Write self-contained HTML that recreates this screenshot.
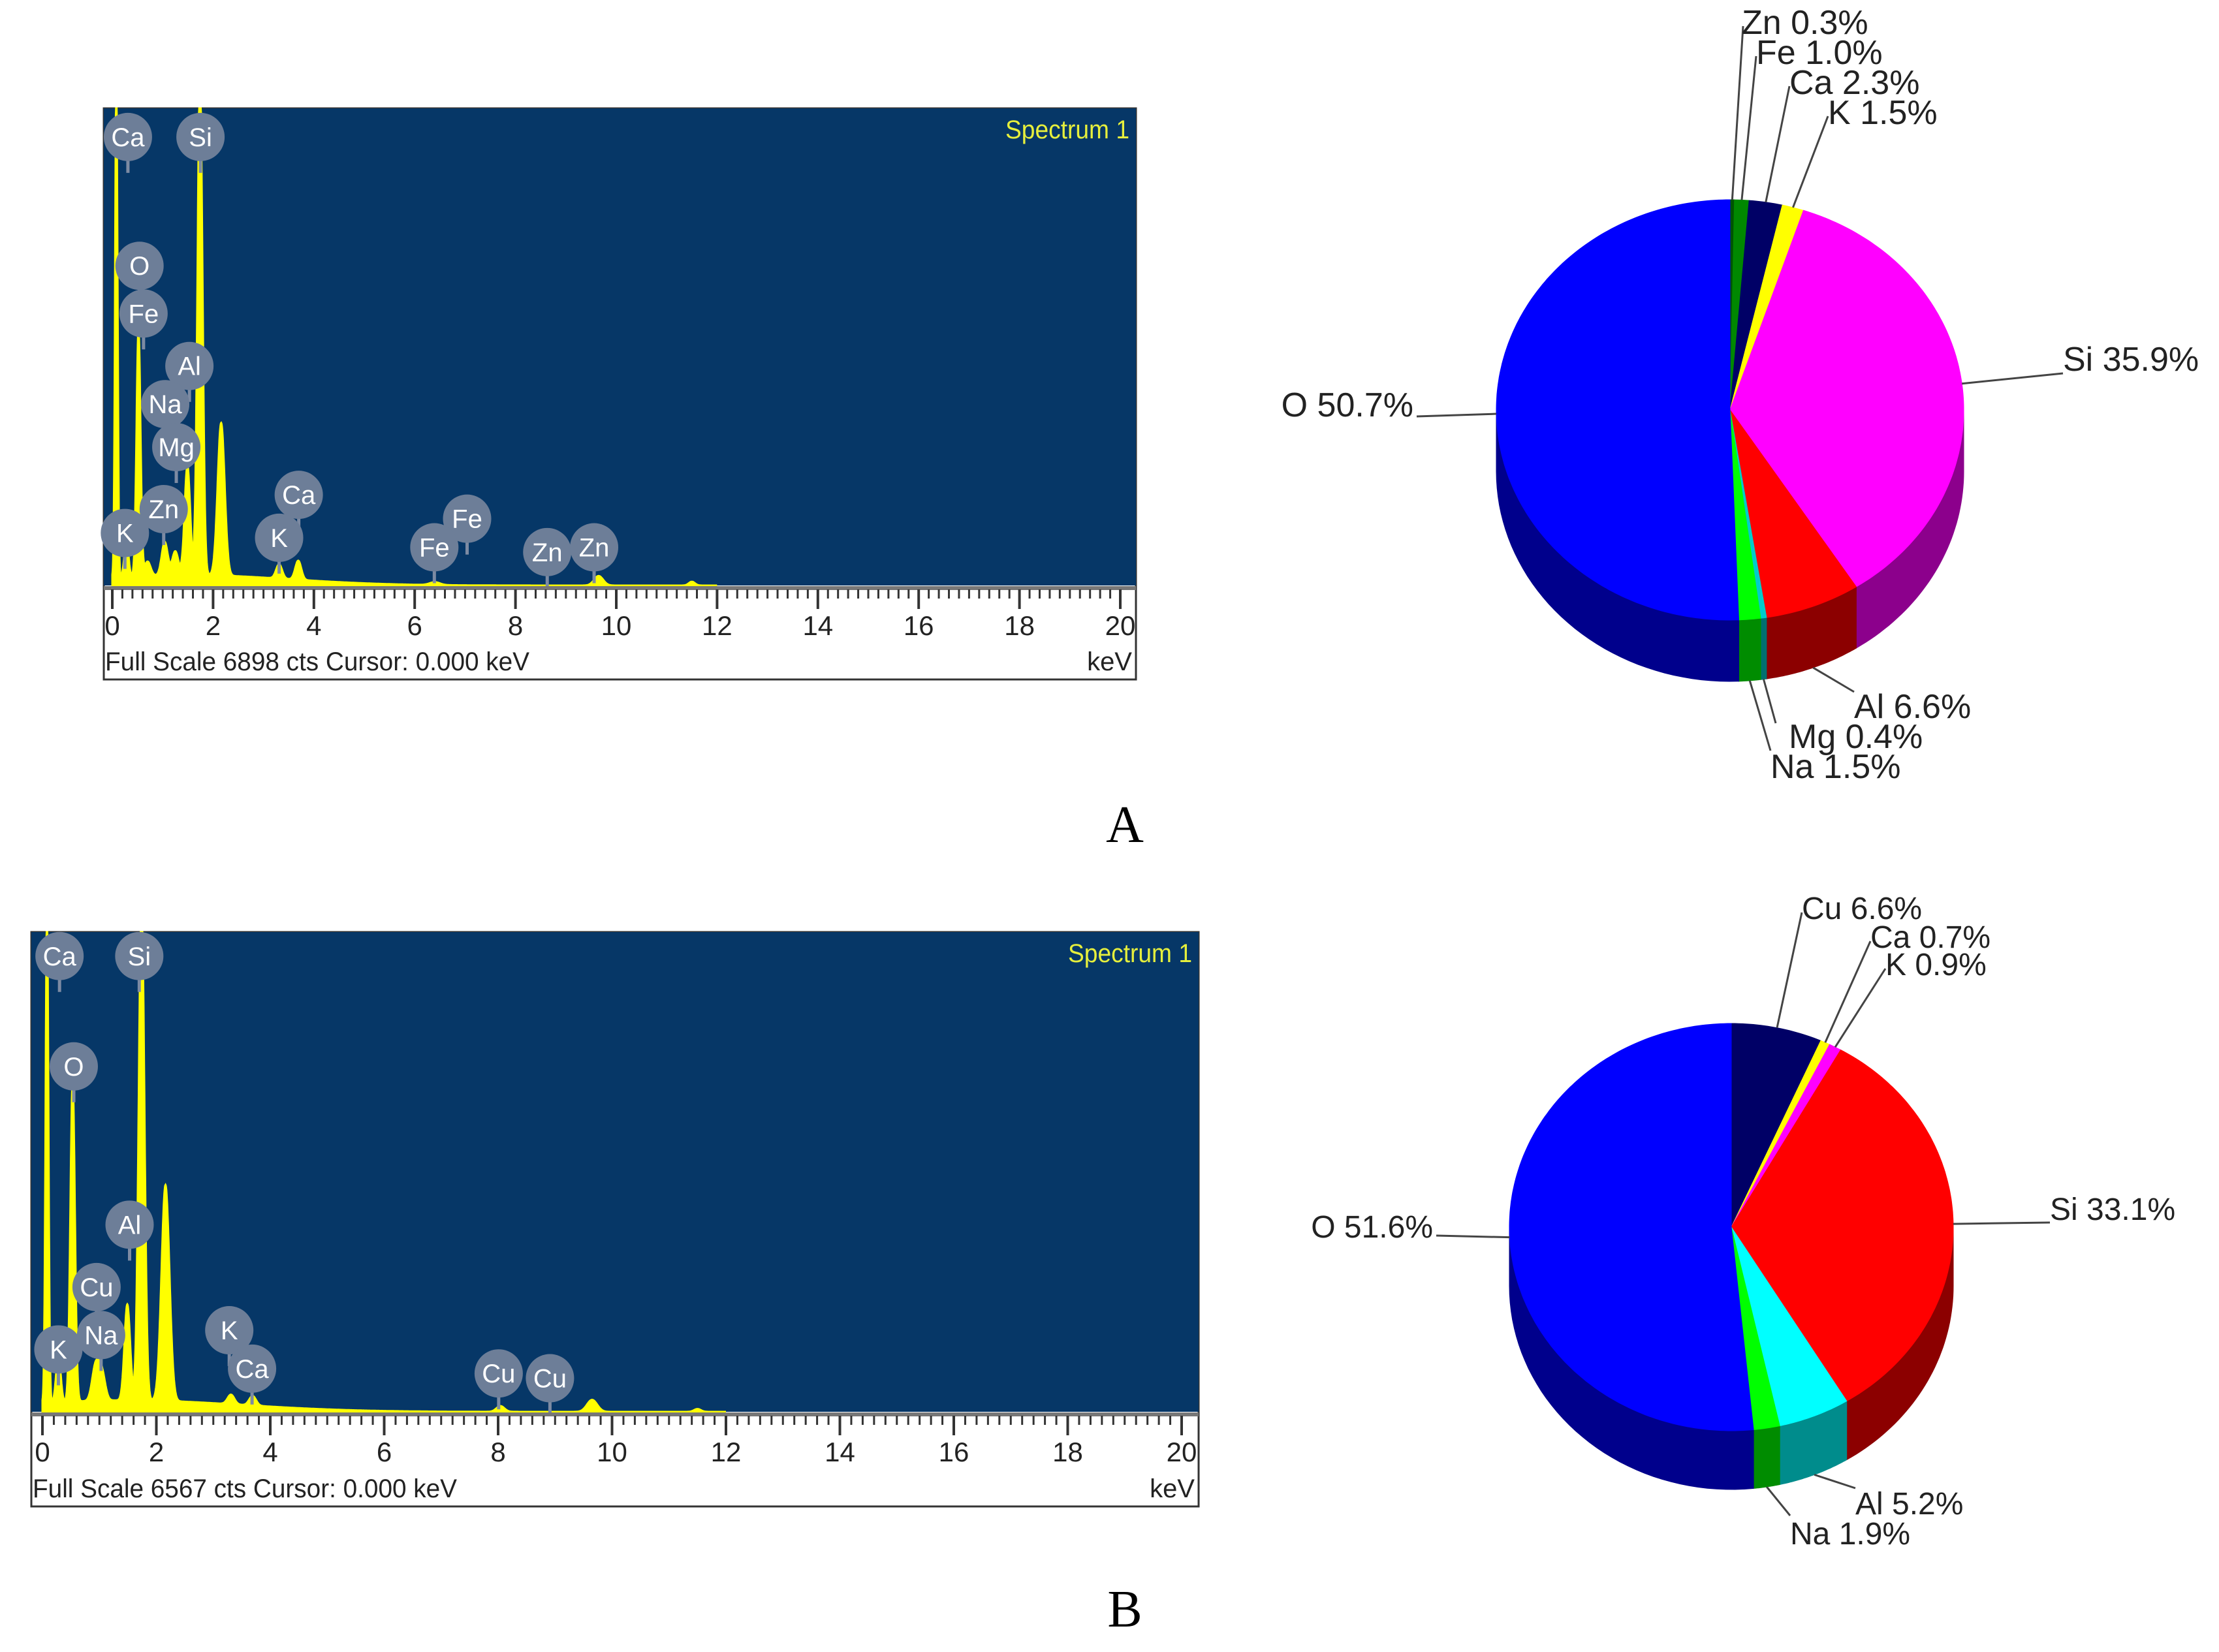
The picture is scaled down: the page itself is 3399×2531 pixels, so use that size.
<!DOCTYPE html>
<html><head><meta charset="utf-8"><style>
html,body{margin:0;padding:0;background:#fff}
svg{display:block}
</style></head><body>
<svg id="fig" xmlns="http://www.w3.org/2000/svg" width="3399" height="2531" viewBox="0 0 3399 2531">
<rect x="0" y="0" width="3399" height="2531" fill="#fff"/>
<text x="1723" y="1290" font-family="Liberation Serif, serif" font-size="80" text-anchor="middle">A</text>
<text x="1723" y="2492" font-family="Liberation Serif, serif" font-size="80" text-anchor="middle">B</text>
</svg>
<script>
// ---- Spectrum A data (energy keV, relative height, width) ----
const peakEnergyA=[0.08,0.28,0.52,0.70,1.04,1.25,1.49,1.74,2.16,3.31,3.69,6.40,9.65,11.5,1.5];
const peakHeightA=[1.05,0.08,0.52,0.03,0.07,0.05,0.23,1.05,0.32,0.03,0.04,0.006,0.02,0.008,0.022];
const peakWidthA=[0.025,0.04,0.04,0.06,0.06,0.06,0.055,0.05,0.07,0.06,0.06,0.1,0.09,0.06,2.0];
const badgeLabelsA=["Ca","Si","O","Fe","Al","Na","Mg","Zn","K","Ca","K","Fe","Fe","Zn","Zn"];
const badgeEnergyA=[0.31,1.75,0.54,0.62,1.53,1.05,1.27,1.02,0.25,3.70,3.31,7.04,6.39,8.63,9.56];
const badgeLevelA=[0.94,0.94,0.67,0.57,0.46,0.38,0.29,0.16,0.11,0.19,0.10,0.14,0.08,0.07,0.08];
// ---- Spectrum B data ----
const peakEnergyB=[0.08,0.28,0.53,0.93,1.04,1.49,1.74,2.16,3.31,3.69,8.04,9.65,11.5,1.5];
const peakHeightB=[1.05,0.10,0.67,0.07,0.06,0.20,1.05,0.45,0.02,0.02,0.012,0.025,0.006,0.024];
const peakWidthB=[0.025,0.04,0.04,0.06,0.06,0.05,0.05,0.07,0.06,0.06,0.07,0.09,0.06,2.0];
const badgeLabelsB=["Ca","Si","O","Al","Cu","Na","K","K","Ca","Cu","Cu"];
const badgeEnergyB=[0.30,1.70,0.55,1.53,0.95,1.03,0.28,3.28,3.68,8.01,8.91];
const badgeLevelB=[0.95,0.95,0.72,0.39,0.26,0.16,0.13,0.17,0.09,0.08,0.07];
const tickLabels=[0,2,4,6,8,10,12,14,16,18,20];
// ---- Pie data ----
const pieLabelsA=["Zn","Fe","Ca","K","Si","Al","Mg","Na","O"];
const pieValuesA=[0.3,1.0,2.3,1.5,35.9,6.6,0.4,1.5,50.7];
const pieLabelsB=["Cu","Ca","K","Si","Al","Na","O"];
const pieValuesB=[6.6,0.7,0.9,33.1,5.2,1.9,51.6];

const NS="http://www.w3.org/2000/svg";
const svg=document.getElementById('fig');
function mk(tag,attrs,parent){const e=document.createElementNS(NS,tag);for(const k in attrs)e.setAttribute(k,attrs[k]);(parent||svg).appendChild(e);return e;}

function spectrum(g,E,H,W,bl,be,bv,fullScale,name){
  const xs=v=>g.x0+(g.x20-g.x0)*v/20;
  const plotH=g.pb-g.top;
  const ys=v=>g.pb-Math.min(v,1.0)*plotH;
  const grp=mk('g',{});
  
  
  const frame=mk('rect',{x:g.left,y:g.top,width:g.right-g.left,height:g.bb-g.top,fill:'#fff',stroke:'#333','stroke-width':3},grp);
  
  
  const bg=mk('rect',{x:g.left,y:g.top,width:g.right-g.left,height:plotH,fill:'#063767'},grp);
  
  
  let d='M'+xs(0)+','+g.pb;
  for(let e=0;e<=12;e+=0.005){let v=0;for(let i=0;i<E.length;i++){v+=H[i]*Math.exp(-0.5*Math.pow((e-E[i])/W[i],2));}d+=' L'+xs(e).toFixed(1)+','+ys(v).toFixed(1);}
  d+=' L'+xs(12)+','+g.pb+' Z';
  const p=mk('path',{d:d,fill:'#ffff00',stroke:'#ffff00','stroke-width':3},grp);
  
  
  for(let i=0;i<bl.length;i++){
    const cx=xs(be[i]),cy=ys(bv[i]);
    const b=mk('g',{},grp);
    
    
    mk('line',{x1:cx,y1:cy+30,x2:cx,y2:cy+55,stroke:'#7d8ba3','stroke-width':5},b);
    mk('circle',{cx:cx,cy:cy,r:37,fill:'#6d7e98'},b);
    const t=mk('text',{x:cx,y:cy+14,'text-anchor':'middle','font-family':'Liberation Sans, sans-serif','font-size':40,fill:'#fff'},b);
    t.textContent=bl[i];
  }
  const st=mk('text',{x:g.right-10,y:g.top+46,'text-anchor':'end','font-family':'Liberation Sans, sans-serif','font-size':40,fill:'#e6ef3c',textLength:190,lengthAdjust:'spacingAndGlyphs'},grp);
  st.textContent='Spectrum 1';
  
  mk('line',{x1:g.left,y1:g.pb+4,x2:g.right,y2:g.pb+4,stroke:'#777','stroke-width':6},grp);
  for(let k=0;k<=100;k++){const x=xs(k*0.2);const major=k%10===0;mk('line',{x1:x,y1:g.pb+6,x2:x,y2:g.pb+(major?36:20),stroke:'#333','stroke-width':major?4:3},grp);}
  tickLabels.forEach(v=>{const t=mk('text',{x:xs(v),y:g.pb+76,'text-anchor':'middle','font-family':'Liberation Sans, sans-serif','font-size':42,fill:'#222'},grp);t.textContent=v;});
  const fs=mk('text',{x:g.left+2,y:g.bb-14,'font-family':'Liberation Sans, sans-serif','font-size':40,fill:'#222',textLength:650,lengthAdjust:'spacingAndGlyphs'},grp);
  fs.textContent='Full Scale '+fullScale+' cts  Cursor: 0.000 keV';
  
  
  const ku=mk('text',{x:g.right-6,y:g.bb-14,'text-anchor':'end','font-family':'Liberation Sans, sans-serif','font-size':40,fill:'#222'},grp);
  ku.textContent='keV';
  
  
}
spectrum({left:159,top:166,right:1740,pb:897,bb:1041,x0:172,x20:1716},peakEnergyA,peakHeightA,peakWidthA,badgeLabelsA,badgeEnergyA,badgeLevelA,6898,'spectrum-a');
spectrum({left:48,top:1428,right:1836,pb:2163,bb:2308,x0:65,x20:1810},peakEnergyB,peakHeightB,peakWidthB,badgeLabelsB,badgeEnergyB,badgeLevelB,6567,'spectrum-b');

const colorMap={Zn:'#005500',Fe:'#008800',Ca:'#000066',K:'#ffff00',Si:'#ff00ff',Al:'#ff0000',Mg:'#00cccc',Na:'#00ff00',O:'#0000ff',Cu:'#000066'};
const colorMapB={Cu:'#000066',Ca:'#ffff00',K:'#ff00ff',Si:'#ff0000',Al:'#00ffff',Na:'#00ff00',O:'#0000ff'};
function darker(c){const n=parseInt(c.slice(1),16);const r=(n>>16)&255,g=(n>>8)&255,b=n&255;return 'rgb('+Math.round(r*0.55)+','+Math.round(g*0.55)+','+Math.round(b*0.55)+')';}

function pie(P,labels,values,cmap,labelPos,fs,name){
  const grp=mk('g',{});
  
  
  const pt=(a,dy)=>[P.cx+P.rx*Math.sin(a),P.cy-P.ry*Math.cos(a)+(dy||0)];
  const tot=values.reduce((a,b)=>a+b,0);
  const angs=[];let acc=0;values.forEach(v=>{const a0=acc/tot*2*Math.PI;acc+=v;angs.push([a0,acc/tot*2*Math.PI]);});
  angs.forEach((a,i)=>{
    const s=Math.max(a[0],Math.PI/2),e=Math.min(a[1],3*Math.PI/2);
    if(e<=s)return;
    let d='';const N=40;
    for(let k=0;k<=N;k++){const p=pt(s+(e-s)*k/N);d+=(k?'L':'M')+p[0].toFixed(1)+','+p[1].toFixed(1);}
    for(let k=N;k>=0;k--){const p=pt(s+(e-s)*k/N,P.dep);d+='L'+p[0].toFixed(1)+','+p[1].toFixed(1);}
    const side=mk('path',{d:d+'Z',fill:darker(cmap[labels[i]]),stroke:darker(cmap[labels[i]]),'stroke-width':1},grp);
    
    
  });
  angs.forEach((a,i)=>{
    let d='M'+P.cx+','+P.cy;const N=Math.max(4,Math.ceil((a[1]-a[0])*60));
    for(let k=0;k<=N;k++){const p=pt(a[0]+(a[1]-a[0])*k/N);d+='L'+p[0].toFixed(1)+','+p[1].toFixed(1);}
    const top=mk('path',{d:d+'Z',fill:cmap[labels[i]],stroke:cmap[labels[i]],'stroke-width':1},grp);
    
    
  });
  angs.forEach((a,i)=>{
    const m=(a[0]+a[1])/2;const lp=labelPos[i];
    const front=m>Math.PI/2&&m<3*Math.PI/2;
    const ep=pt(m,front&&Math.cos(m)<-0.5?P.dep:0);
    const ln=mk('line',{x1:lp[2],y1:lp[3],x2:ep[0],y2:ep[1],stroke:'#444','stroke-width':3},grp);
    
    
    const t=mk('text',{x:lp[0],y:lp[1],'text-anchor':lp[4]||'start','font-family':'Liberation Sans, sans-serif','font-size':fs,fill:'#222'},grp);
    t.textContent=labels[i]+' '+values[i].toFixed(1)+'%';
    
    
  });
}
pie({cx:2650,cy:628,rx:358,ry:322,dep:94},pieLabelsA,pieValuesA,colorMap,
 [[2668,52,2670,40],[2690,98,2690,86],[2741,144,2741,132],[2800,190,2800,178],
  [3160,568,3160,572],[2840,1100,2840,1060],[2740,1146,2720,1108],[2712,1192,2712,1150],[2165,638,2170,638,'end']],52,'pie-a');
pie({cx:2652,cy:1880,rx:340,ry:312,dep:90},pieLabelsB,pieValuesB,colorMapB,
 [[2760,1408,2760,1398],[2865,1452,2865,1442],[2888,1494,2888,1484],
  [3140,1869,3140,1873],[2842,2320,2842,2280],[2742,2366,2742,2322],[2195,1896,2200,1893,'end']],48,'pie-b');
</script>
</body></html>
